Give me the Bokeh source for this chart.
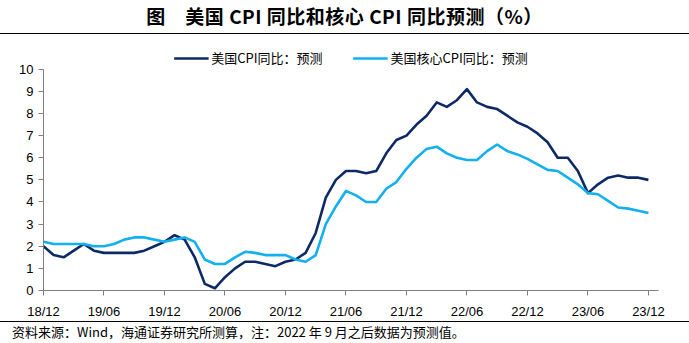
import pandas as pd
from bokeh.plotting import figure
from bokeh.models import Div, Legend, LegendItem, FixedTicker, ColumnDataSource, Range1d
from bokeh.layouts import column
from bokeh.embed import file_html
from bokeh.resources import INLINE

# ---------------- data ----------------
months = [p.strftime("%y/%m") for p in pd.period_range("2018-12", "2023-12", freq="M")]
tick_labels = ["18/12", "19/06", "19/12", "20/06", "20/12", "21/06",
               "21/12", "22/06", "22/12", "23/06", "23/12"]
y_ticks = [0, 1, 2, 3, 4, 5, 6, 7, 8, 9, 10]

cpi = [2.0, 1.6, 1.5, 1.8, 2.1, 1.8, 1.7, 1.7, 1.7, 1.7, 1.8, 2.0, 2.2,
       2.5, 2.3, 1.5, 0.3, 0.1, 0.6, 1.0, 1.3, 1.3, 1.2, 1.1, 1.3,
       1.4, 1.7, 2.6, 4.2, 5.0, 5.4, 5.4, 5.3, 5.4, 6.2, 6.8, 7.0,
       7.5, 7.9, 8.5, 8.3, 8.6, 9.1, 8.5, 8.3, 8.2, 7.9, 7.6, 7.4,
       7.1, 6.7, 6.0, 6.0, 5.4, 4.4, 4.8, 5.1, 5.2, 5.1, 5.1, 5.0]

core = [2.2, 2.1, 2.1, 2.1, 2.1, 2.0, 2.0, 2.1, 2.3, 2.4, 2.4, 2.3, 2.2,
        2.3, 2.4, 2.2, 1.4, 1.2, 1.2, 1.5, 1.75, 1.7, 1.6, 1.6, 1.6,
        1.4, 1.3, 1.6, 3.0, 3.8, 4.5, 4.3, 4.0, 4.0, 4.6, 4.9, 5.5,
        6.0, 6.4, 6.5, 6.2, 6.0, 5.9, 5.9, 6.3, 6.6, 6.3, 6.15, 5.95,
        5.7, 5.45, 5.4, 5.1, 4.8, 4.4, 4.35, 4.05, 3.75, 3.7, 3.6, 3.5]

series_names = ["美国CPI同比：预测", "美国核心CPI同比：预测"]
title_text = "图　美国 CPI 同比和核心 CPI 同比预测（%）"
source_text = "资料来源：Wind，海通证券研究所测算，注：2022 年 9 月之后数据为预测值。"

# ---------------- styling ----------------
NAVY = "#0E2A66"
LIGHT = "#12B0EE"
CJK = "Noto Sans CJK SC"
LAT = "Liberation Sans"

W = 689
idx = list(range(len(months)))
src = ColumnDataSource(dict(x=idx, cpi=cpi, core=core))

# frame spans 245 px; 10 units occupy 224 px, leaving headroom for the legend
y_top = 10 * 245 / 224
p = figure(width=W, height=287, output_backend="svg", toolbar_location=None,
           x_range=Range1d(0, len(months)), y_range=Range1d(0, y_top),
           min_border_left=43, min_border_right=31, min_border_top=14, min_border_bottom=28,
           margin=0)
p.outline_line_color = None
p.xgrid.grid_line_color = None
p.ygrid.grid_line_color = None
p.background_fill_color = "white"
p.border_fill_color = "white"

r1 = p.line("x", "cpi", source=src, line_color=NAVY, line_width=2.6, line_join="round")
r2 = p.line("x", "core", source=src, line_color=LIGHT, line_width=2.6, line_join="round")

tick_pos = [months.index(t) for t in tick_labels]
p.xaxis.ticker = FixedTicker(ticks=tick_pos)
p.xaxis.major_label_overrides = {pos: lab for pos, lab in zip(tick_pos, tick_labels)}
p.yaxis.ticker = FixedTicker(ticks=y_ticks)
p.yaxis.bounds = (y_ticks[0], y_ticks[-1])
for ax in (p.xaxis, p.yaxis):
    ax.axis_line_color = "#7F7F7F"
    ax.major_tick_line_color = "#7F7F7F"
    ax.minor_tick_line_color = None
    ax.major_tick_out = 5
    ax.major_tick_in = 0
    ax.major_label_text_font = LAT
    ax.major_label_text_font_size = "13px"
    ax.major_label_text_color = "black"
p.xaxis.major_label_standoff = 8
p.yaxis.major_label_standoff = 5

legend = Legend(items=[LegendItem(label=series_names[0], renderers=[r1]),
                       LegendItem(label=series_names[1], renderers=[r2])],
                orientation="horizontal", location="top_center",
                border_line_color=None, background_fill_alpha=0,
                label_text_font=CJK, label_text_font_size="13px", label_text_color="black",
                glyph_width=35, glyph_height=14, label_height=14,
                padding=0, margin=0, spacing=30, label_standoff=3)
p.add_layout(legend, "center")

title_div = Div(text=title_text, width=W, height=34, margin=0,
                styles={"border-bottom": "1.5px solid black", "text-align": "center",
                        "font-family": CJK, "font-size": "19px", "font-weight": "bold",
                        "letter-spacing": "0.5px",
                        "line-height": "32px", "width": f"{W}px", "height": "34px",
                        "box-sizing": "border-box"})
source_div = Div(text=source_text, width=W, height=22, margin=0,
                 styles={"border-top": "1.5px solid black", "font-family": CJK,
                         "font-size": "13px", "line-height": "19px", "padding-left": "12px",
                         "width": f"{W}px", "height": "22px", "box-sizing": "border-box"})

layout = column(title_div, p, source_div, spacing=0)
open("out.html", "w").write(file_html(layout, INLINE))
